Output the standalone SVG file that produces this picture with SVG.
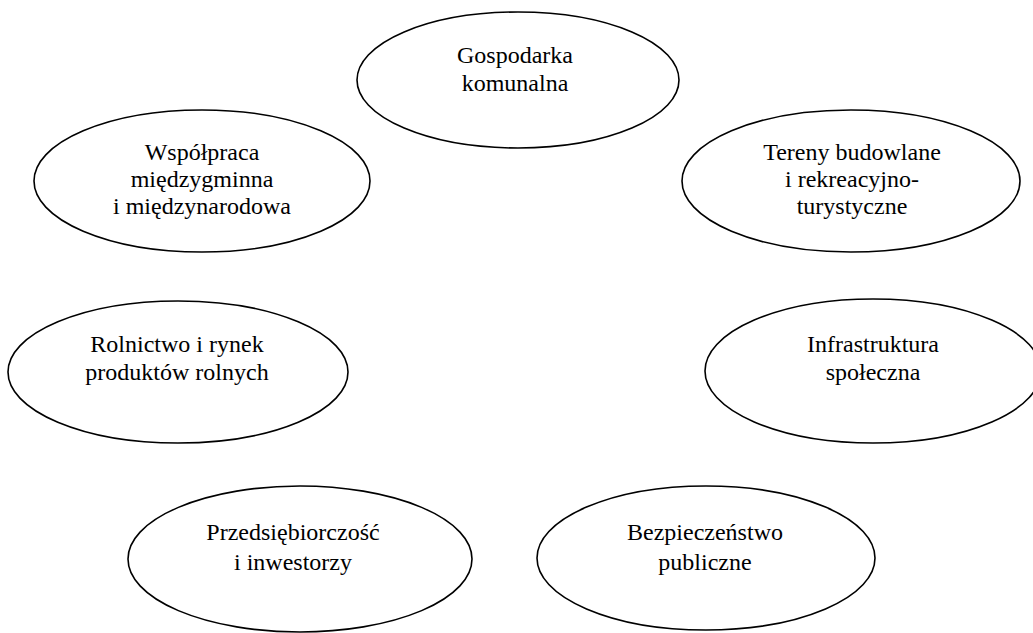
<svg xmlns="http://www.w3.org/2000/svg" width="1033" height="633" viewBox="0 0 1033 633">
<style>
.n ellipse{fill:#fff;stroke:#000;stroke-width:1.6}
.n text{font-family:"Liberation Serif","Times New Roman",serif;font-size:24px;fill:#000;text-anchor:middle}
</style>
<rect width="1033" height="633" fill="#fff"/>
<g id="connectors"/>
<g id="n1" class="n"><ellipse cx="518" cy="80" rx="161" ry="68"/><text x="515" y="63">Gospodarka</text><text x="515" y="91">komunalna</text></g>
<g id="n2" class="n"><ellipse cx="202" cy="181" rx="168" ry="71"/><text x="202" y="160">Współpraca</text><text x="202" y="187">międzygminna</text><text x="202" y="214">i międzynarodowa</text></g>
<g id="n3" class="n"><ellipse cx="851" cy="181" rx="169" ry="71"/><text x="852" y="160">Tereny budowlane</text><text x="852" y="187">i rekreacyjno-</text><text x="852" y="214">turystyczne</text></g>
<g id="n4" class="n"><ellipse cx="178" cy="372" rx="170" ry="71"/><text x="177" y="352">Rolnictwo i rynek</text><text x="177" y="380">produktów rolnych</text></g>
<g id="n5" class="n"><ellipse cx="873" cy="371" rx="168" ry="72"/><text x="873" y="352">Infrastruktura</text><text x="873" y="380">społeczna</text></g>
<g id="n6" class="n"><ellipse cx="300" cy="559" rx="172" ry="73"/><text x="293" y="540">Przedsiębiorczość</text><text x="293" y="570">i inwestorzy</text></g>
<g id="n7" class="n"><ellipse cx="706" cy="558" rx="169" ry="72"/><text x="705" y="540">Bezpieczeństwo</text><text x="705" y="570">publiczne</text></g>
</svg>
